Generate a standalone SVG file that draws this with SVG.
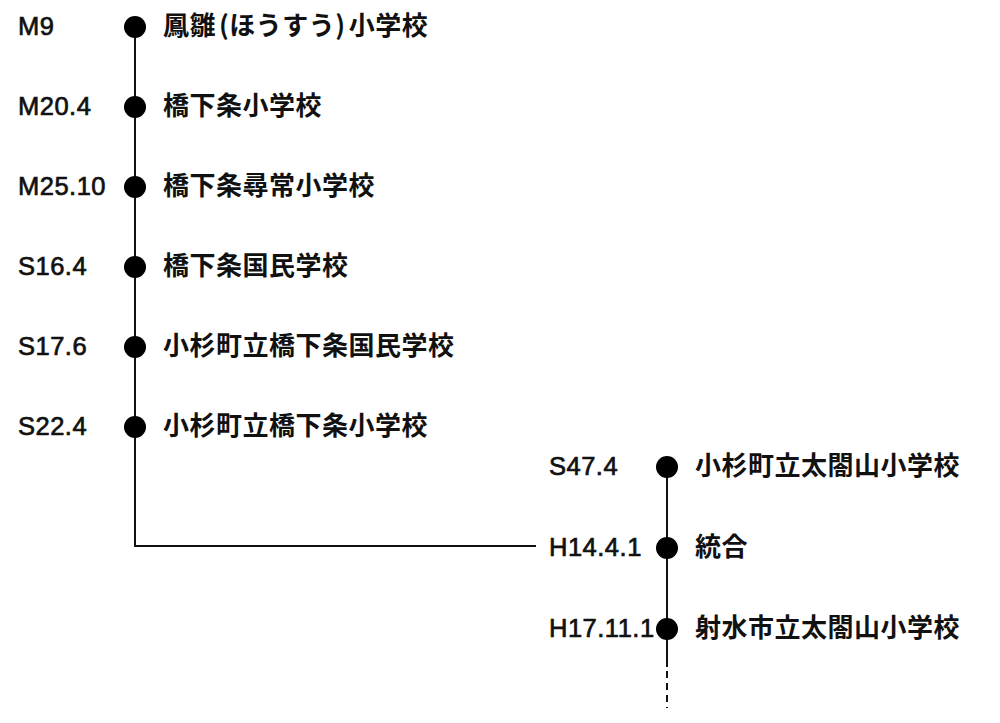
<svg xmlns="http://www.w3.org/2000/svg" width="1000" height="723" viewBox="0 0 1000 723">
<style>
.d{font-family:"Liberation Sans","Noto Sans CJK JP",sans-serif;font-size:25.5px;letter-spacing:0.5px;fill:#111;stroke:#111;stroke-width:0.7}
.n{font-family:"Noto Sans CJK JP",sans-serif;font-size:26px;font-weight:bold;letter-spacing:0.5px;fill:#111}
.ln{stroke:#111;stroke-width:2;fill:none}
.dot{fill:#000}
</style>
<rect width="1000" height="723" fill="#fff"/>
<g id="connectors">
<path class="ln" d="M135 27 V546 H536"/>
<path class="ln" d="M667 467 V667"/>
<path class="ln" d="M667 671 V708" stroke-dasharray="7 5"/>
</g>
<g id="n1"><circle class="dot" cx="135" cy="27" r="11"/><text class="d" x="18" y="35">M9</text><text class="n" x="163" y="35">鳳雛<tspan dx="3">(ほうすう)</tspan><tspan dx="3">小学校</tspan></text></g>
<g id="n2"><circle class="dot" cx="135" cy="107" r="11"/><text class="d" x="18" y="115">M20.4</text><text class="n" x="163" y="115">橋下条小学校</text></g>
<g id="n3"><circle class="dot" cx="135" cy="187" r="11"/><text class="d" x="18" y="195">M25.10</text><text class="n" x="163" y="195">橋下条尋常小学校</text></g>
<g id="n4"><circle class="dot" cx="135" cy="267" r="11"/><text class="d" x="18" y="275">S16.4</text><text class="n" x="163" y="275">橋下条国民学校</text></g>
<g id="n5"><circle class="dot" cx="135" cy="347" r="11"/><text class="d" x="18" y="355">S17.6</text><text class="n" x="163" y="355">小杉町立橋下条国民学校</text></g>
<g id="n6"><circle class="dot" cx="135" cy="427" r="11"/><text class="d" x="18" y="435">S22.4</text><text class="n" x="163" y="435">小杉町立橋下条小学校</text></g>
<g id="n7"><circle class="dot" cx="667" cy="467" r="11"/><text class="d" x="549" y="475">S47.4</text><text class="n" x="695" y="475">小杉町立太閤山小学校</text></g>
<g id="n8"><circle class="dot" cx="667" cy="548" r="11"/><text class="d" x="549" y="556">H14.4.1</text><text class="n" x="695" y="556">統合</text></g>
<g id="n9"><circle class="dot" cx="667" cy="629" r="11"/><text class="d" x="549" y="637">H17.11.1</text><text class="n" x="695" y="637">射水市立太閤山小学校</text></g>
</svg>
